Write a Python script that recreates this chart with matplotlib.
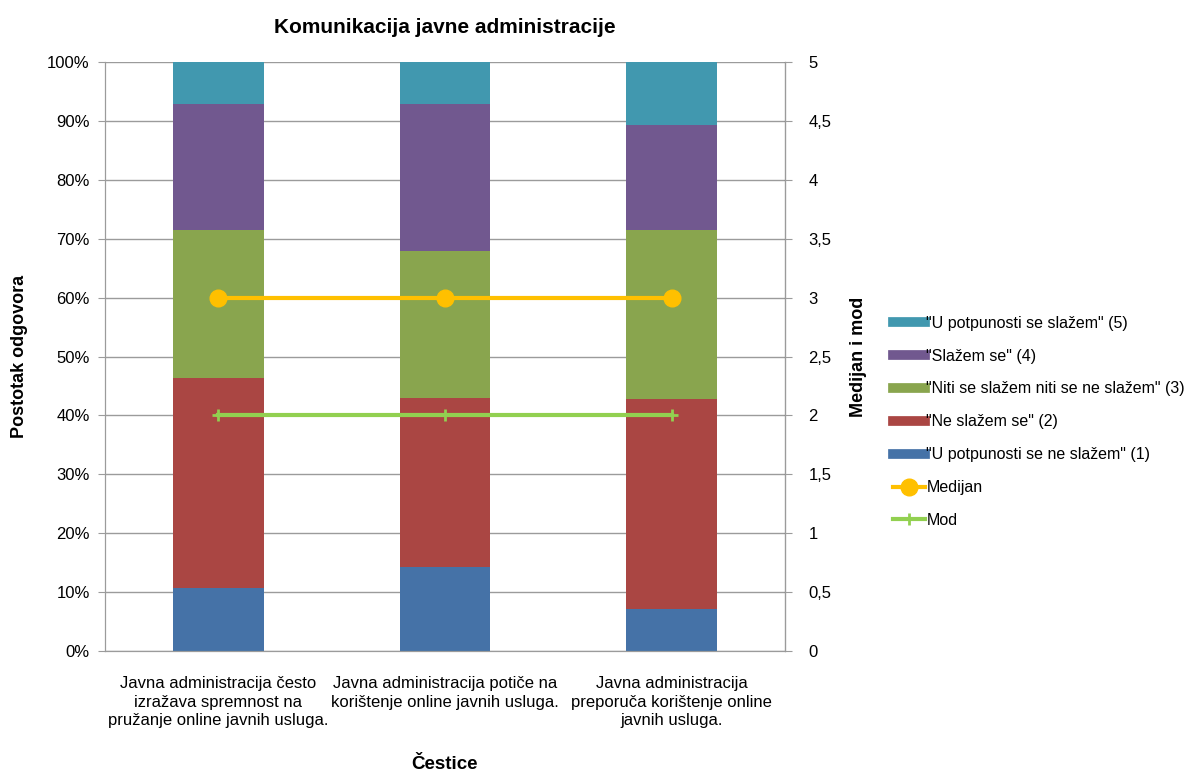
import matplotlib
matplotlib.use("Agg")
import matplotlib.pyplot as plt
import numpy as np
from matplotlib.lines import Line2D

plt.rcParams['font.family'] = ['Liberation Sans', 'DejaVu Sans']

categories = [
    "Javna administracija često\nizražava spremnost na\npružanje online javnih usluga.",
    "Javna administracija potiče na\nkorištenje online javnih usluga.",
    "Javna administracija\npreporuča korištenje online\njavnih usluga.",
]
series_names = [
    '"U potpunosti se ne slažem" (1)',
    '"Ne slažem se" (2)',
    '"Niti se slažem niti se ne slažem" (3)',
    '"Slažem se" (4)',
    '"U potpunosti se slažem" (5)',
]
# postotak odgovora po kategoriji (stupac = čestica)
s1 = [10.7, 14.3, 7.1]
s2 = [35.7, 28.6, 35.7]
s3 = [25.0, 25.0, 28.6]
s4 = [21.4, 25.0, 17.9]
s5 = [7.2, 7.1, 10.7]
medijan = [3, 3, 3]
mod = [2, 2, 2]

colors = ["#4572A7", "#AA4643", "#89A54E", "#71588F", "#4198AF"]
grid_c = "#9b9b9b"

fig = plt.figure(figsize=(11.99, 7.74), dpi=100)
ax = fig.add_axes([0.0876, 0.1589, 0.567, 0.761])
ax2 = ax.twinx()

x = np.arange(len(categories))
bottom = np.zeros(len(categories))
for vals, c in zip([s1, s2, s3, s4, s5], colors):
    ax.bar(x, vals, width=0.4, bottom=bottom, color=c, zorder=2)
    bottom += np.array(vals)

ax.set_xlim(-0.5, 2.5)
ax.set_ylim(0, 100)
ax.set_yticks(np.arange(0, 101, 10))
ax.set_yticklabels([f"{v}%" for v in range(0, 101, 10)])
ax.yaxis.grid(True, color=grid_c, lw=1, zorder=0)
ax.set_axisbelow(True)
ax.set_xticks(x)
ax.set_xticklabels(categories, fontsize=12, linespacing=1.3)
ax.tick_params(axis='x', length=0, pad=18)
ax.tick_params(axis='y', length=5, color=grid_c, labelsize=12, pad=6)
ax.spines['top'].set_visible(False)
ax2.spines['top'].set_visible(False)
for sp in [ax.spines['left'], ax.spines['bottom'], ax2.spines['right'], ax2.spines['left'], ax2.spines['bottom']]:
    sp.set_color(grid_c)

ax2.plot(x, medijan, color="#FFC000", lw=3, marker='o', markersize=12, zorder=3)
ax2.plot(x, mod, color="#92D050", lw=3, marker='+', markersize=9, markeredgewidth=2, zorder=3)
ax2.set_ylim(0, 5)
ax2.set_yticks(np.arange(0, 5.01, 0.5))
ax2.set_yticklabels([f"{v:g}".replace(".", ",") for v in np.arange(0, 5.01, 0.5)])
ax2.tick_params(axis='y', length=5, color=grid_c, labelsize=12, pad=12)

ax.set_ylabel("Postotak odgovora", fontsize=13, fontweight='bold', labelpad=14)
ax2.set_ylabel("Medijan i mod", fontsize=13, fontweight='bold', rotation=90, labelpad=13)
ax.set_xlabel("Čestice", fontsize=13.5, fontweight='bold', labelpad=20)
ax.set_title("Komunikacija javne administracije", fontsize=15, fontweight='bold', pad=21)

handles = [Line2D([0], [0], color=c, lw=7) for c in colors[::-1]]
handles += [
    Line2D([0], [0], color="#FFC000", lw=3, marker='o', markersize=12),
    Line2D([0], [0], color="#92D050", lw=3, marker='+', markersize=9, markeredgewidth=2),
]
labels = series_names[::-1] + ["Medijan", "Mod"]
fig.legend(handles, labels, loc='center left', bbox_to_anchor=(0.745, 0.455),
           frameon=False, fontsize=11.5, handlelength=2.0, handletextpad=0.08,
           labelspacing=1.12, borderaxespad=0, borderpad=0)

fig.savefig("out.png", dpi=100)
